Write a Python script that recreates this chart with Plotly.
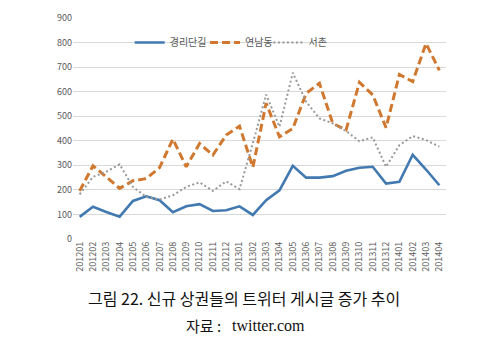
import plotly.graph_objects as go

months = ["201201", "201202", "201203", "201204", "201205", "201206", "201207",
          "201208", "201209", "201210", "201211", "201212", "201301", "201302",
          "201303", "201304", "201305", "201306", "201307", "201308", "201309",
          "201310", "201311", "201312", "201401", "201402", "201403", "201404"]

gyeongridan = [90, 131, 110, 91, 155, 174, 158, 109, 133, 142, 114, 117, 133, 98,
               158, 198, 298, 250, 250, 256, 278, 290, 294, 226, 233, 343, 283, 219]
yeonnam = [196, 298, 253, 206, 237, 246, 291, 407, 294, 389, 342, 423, 460, 292,
           553, 416, 450, 593, 634, 471, 444, 638, 587, 453, 670, 641, 796, 687]
seochon = [182, 253, 274, 304, 212, 171, 161, 178, 212, 231, 196, 235, 203, 390,
           588, 457, 677, 559, 491, 471, 440, 398, 414, 294, 382, 419, 403, 376]

names = ["경리단길", "연남동", "서촌"]
yticks = [0, 100, 200, 300, 400, 500, 600, 700, 800, 900]

fig = go.Figure()
fig.add_trace(go.Scatter(x=months, y=gyeongridan, name=names[0], mode="lines",
                         legend="legend",
                         line=dict(color="#4179B0", width=2.6)))
fig.add_trace(go.Scatter(x=months, y=yeonnam, name=names[1], mode="lines",
                         legend="legend2",
                         line=dict(color="#D0782F", width=3, dash="8px,4px")))
fig.add_trace(go.Scatter(x=months, y=seochon, name=names[2], mode="lines",
                         legend="legend3",
                         line=dict(color="#999999", width=2, dash="2px,2.5px")))

font_kr = "Noto Sans CJK KR, Noto Sans, sans-serif"


def leg(xp):
    return dict(orientation="h", x=xp, y=0.889, xanchor="left", yanchor="middle",
                bgcolor="rgba(0,0,0,0)", font=dict(size=10, color="#595959"),
                itemwidth=30)


fig.update_layout(
    width=504, height=344,
    margin=dict(l=73, r=58, t=18, b=105),
    paper_bgcolor="white", plot_bgcolor="white",
    font=dict(family=font_kr, size=9, color="#595959"),
    showlegend=True,
    legend=leg(0.152),
    legend2=leg(0.354),
    legend3=leg(0.524),
    xaxis=dict(type="category", range=[-0.5, 27.5], tickangle=-90,
               showgrid=False, zeroline=False, showline=False, ticks="",
               tickfont=dict(size=9, color="#595959")),
    yaxis=dict(range=[0, 900], tickvals=yticks, showgrid=True, gridcolor="#D9D9D9",
               gridwidth=1, zeroline=False, showline=False, ticks="",
               tickfont=dict(size=9, color="#595959")),
    annotations=[
        dict(text="그림 22. 신규 상권들의 트위터 게시글 증가 추이", xref="paper", yref="paper",
             x=0.458, y=-0.269, xanchor="center", yanchor="middle", showarrow=False,
             font=dict(family=font_kr, size=16, color="#111111")),
        dict(text="자료 :", xref="paper", yref="paper",
             x=0.298, y=-0.392, xanchor="left", yanchor="middle", showarrow=False,
             font=dict(family=font_kr, size=15, color="#111111")),
        dict(text="twitter.com", xref="paper", yref="paper",
             x=0.420, y=-0.392, xanchor="left", yanchor="middle", showarrow=False,
             font=dict(family="Liberation Serif, Times New Roman, serif", size=16,
                       color="#111111")),
    ],
)

fig.write_html("out.html")
